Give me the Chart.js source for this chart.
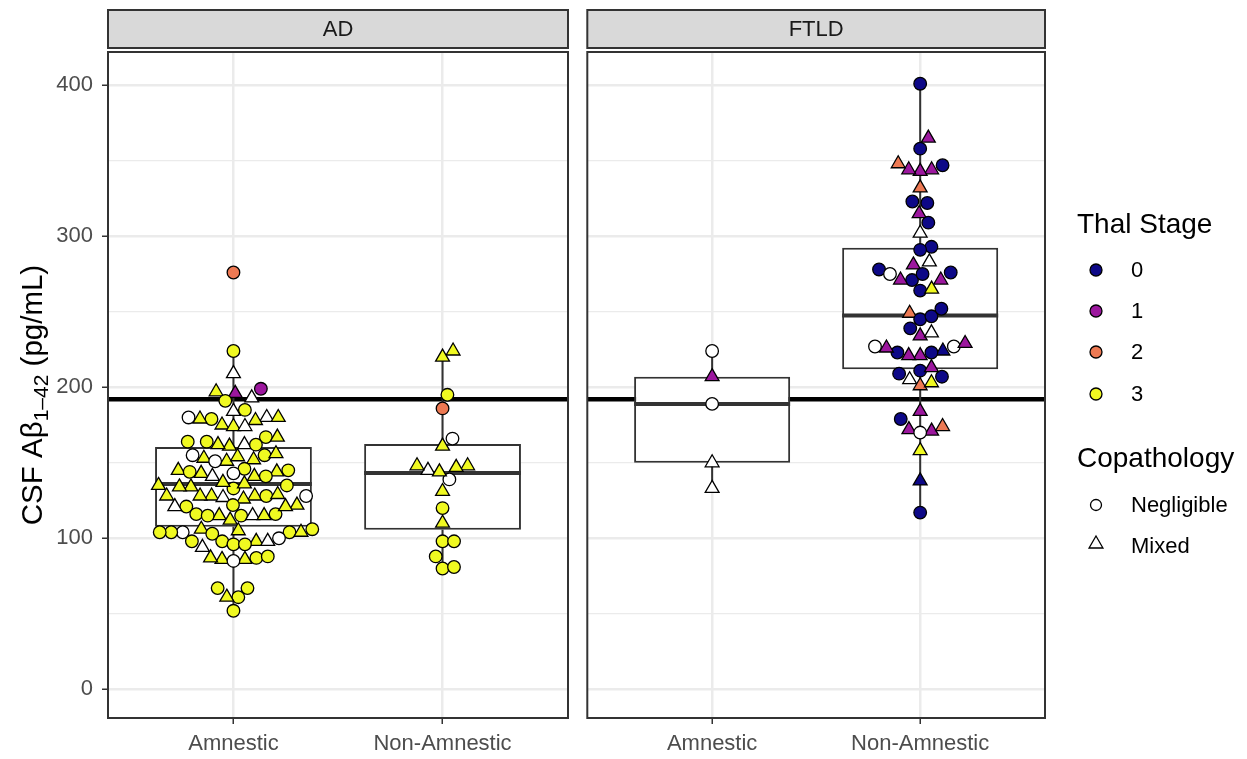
<!DOCTYPE html>
<html>
<head>
<meta charset="utf-8">
<script src="https://cdn.jsdelivr.net/npm/chart.js@4.4.0/dist/chart.umd.min.js"></script>
<style>
  html, body { margin: 0; padding: 0; background: #fff; }
  #wrap { position: relative; width: 1247px; height: 759px; overflow: hidden; }
  canvas { position: absolute; top: 0; }
  #left { left: 0; width: 578px; height: 759px; }
  #right { left: 578px; width: 669px; height: 759px; }
</style>
</head>
<body>
<div id="wrap">
  <canvas id="left" width="578" height="759"></canvas>
  <canvas id="right" width="669" height="759"></canvas>
</div>
<script>
// categories / facets
const categories = ['Amnestic', 'Non-Amnestic'];
const panels = ['AD', 'FTLD'];
const yTicks = [0, 100, 200, 300, 400];
const yMinor = [50, 150, 250, 350];
const yMin = -19;
const yMax = 422;
const threshold = 192;

// thal stage colours (plasma) - null stage drawn white
const stageColors = ['#0d0887', '#9c179e', '#ed7953', '#f0f921'];
const stageLabels = ['0', '1', '2', '3'];
const copathLabels = ['Negligible', 'Mixed'];

// box stats per category [Amnestic, Non-Amnestic]
const adQ1 = [107.6, 105.6];
const adMed = [136, 143.2];
const adQ3 = [160.4, 162.4];
const adLo = [52, 80];
const adHi = [224, 224];

const ftldQ1 = [150, 212];
const ftldMed = [189, 247.5];
const ftldQ3 = [207, 292.4];
const ftldLo = [133, 117];
const ftldHi = [224, 401];

// points: [value, thal stage (null = NA), copathology o=Negligible t=Mixed]
const adAmnestic = [
  [276,2,'o'], [224,3,'o'], [209,null,'t'], [199,1,'o'], [196,1,'t'], [197,3,'t'], [193,null,'t'],
  [191,3,'o'], [185,3,'o'], [184,null,'t'], [179,3,'o'], [179,3,'t'], [180,null,'t'], [178,3,'t'],
  [180,3,'t'], [180,null,'o'], [175,3,'t'], [174,3,'t'], [174,null,'t'], [167,3,'o'], [167,3,'t'],
  [164,3,'o'], [162,null,'t'], [161,3,'t'], [162,3,'t'], [162,3,'o'], [164,3,'o'], [155,3,'o'],
  [155,null,'o'], [153,3,'t'], [152,3,'t'], [151,3,'t'], [151,null,'o'], [154,3,'t'], [156,3,'t'],
  [145,3,'o'], [145,3,'t'], [146,3,'o'], [143,null,'o'], [143,3,'t'], [144,3,'t'], [141,3,'t'],
  [141,null,'t'], [141,3,'o'], [144,3,'o'], [135,3,'o'], [135,3,'t'], [133,3,'o'], [128,3,'t'],
  [128,3,'t'], [128,3,'o'], [137,3,'t'], [136,3,'t'], [134,3,'t'], [134,3,'t'], [127,null,'t'],
  [121,3,'o'], [129,3,'t'], [126,3,'t'], [128,3,'t'], [128,3,'t'], [128,null,'o'], [122,3,'o'],
  [122,3,'t'], [116,3,'o'], [115,3,'o'], [115,3,'t'], [112,3,'t'], [115,null,'t'], [115,3,'o'],
  [115,3,'t'], [116,3,'o'], [121,3,'t'], [121,null,'t'], [106,3,'t'], [104,null,'o'], [104,3,'o'],
  [106,3,'o'], [105,3,'t'], [104,3,'o'], [98,3,'o'], [94,null,'t'], [103,3,'o'], [98,3,'t'],
  [96,3,'o'], [96,3,'o'], [98,null,'t'], [98,3,'o'], [100,null,'o'], [104,3,'t'], [104,3,'o'],
  [87,3,'o'], [86,3,'t'], [86,3,'t'], [85,null,'o'], [87,3,'t'], [88,3,'o'], [67,3,'o'],
  [67,3,'o'], [61,3,'o'], [61,3,'t'], [52,3,'o']
];
const adNonAmnestic = [
  [224,3,'t'], [220,3,'t'], [195,3,'o'], [186,2,'o'], [166,null,'o'], [161,3,'t'], [148,3,'t'],
  [147,3,'t'], [145,null,'t'], [139,null,'o'], [144,3,'t'], [148,3,'t'], [131,3,'t'], [120,3,'o'],
  [110,3,'t'], [98,3,'o'], [98,3,'o'], [88,3,'o'], [80,3,'o'], [81,3,'o']
];
const ftldAmnestic = [
  [224,null,'o'], [207,1,'t'], [189,null,'o'], [150,null,'t'], [133,null,'t']
];
const ftldNonAmnestic = [
  [401,0,'o'], [365,1,'t'], [358,0,'o'], [347,0,'o'], [344,1,'t'], [343,1,'t'], [344,1,'t'],
  [348,2,'t'], [332,2,'t'], [323,0,'o'], [322,0,'o'], [315,1,'t'], [309,0,'o'], [302,null,'t'],
  [293,0,'o'], [291,0,'o'], [281,1,'t'], [283,null,'t'], [278,0,'o'], [276,0,'o'], [271,0,'o'],
  [271,1,'t'], [275,0,'o'], [271,1,'t'], [275,null,'o'], [264,0,'o'], [265,3,'t'], [249,2,'t'],
  [245,0,'o'], [247,0,'o'], [252,0,'o'], [239,0,'o'], [234,1,'t'], [236,null,'t'], [227,null,'o'],
  [227,null,'o'], [224,0,'t'], [223,0,'o'], [221,1,'t'], [221,1,'t'], [223,0,'o'], [226,1,'t'],
  [229,1,'t'], [209,0,'o'], [205,null,'t'], [211,0,'o'], [207,0,'o'], [213,1,'t'], [201,2,'t'],
  [203,3,'t'], [179,0,'o'], [184,1,'t'], [172,1,'t'], [171,1,'t'], [170,null,'o'], [174,2,'t'],
  [158,3,'t'], [138,0,'t'], [117,0,'o']
];

const FONT = '"Liberation Sans", Arial, Helvetica, sans-serif';
const DARK = '#333333';
const GRID = '#ebebeb';
const BOX_HALF = 0.375;

function fillOf(stage) { return stage === null ? '#ffffff' : stageColors[stage]; }

function pointDataset(points, cat) {
  return {
    type: 'scatter',
    order: 0,
    data: points.map(p => ({ x: cat, y: p[0] })),
    pointStyle: points.map(p => p[2] === 'o' ? 'circle' : 'triangle'),
    pointRadius: points.map(p => p[2] === 'o' ? 6.3 : 8),
    pointBackgroundColor: points.map(p => fillOf(p[1])),
    pointBorderColor: '#000000',
    pointBorderWidth: 1.3
  };
}

// swarm layout in pixel space (elliptical spacing), lowest values placed first
function swarmOffsets(pixYs, sx, sy) {
  const idx = pixYs.map((_, i) => i).sort((a, b) => pixYs[b] - pixYs[a]);
  const placed = [];
  const out = new Array(pixYs.length).fill(0);
  const clear = (c, y) => placed.every(p => ((p.x - c) / sx) ** 2 + ((p.y - y) / sy) ** 2 >= 0.999);
  for (const i of idx) {
    const y = pixYs[i];
    const cands = [0];
    for (const p of placed) {
      const dy = Math.abs(p.y - y);
      if (dy < sy) {
        const dx = sx * Math.sqrt(1 - (dy / sy) ** 2);
        cands.push(p.x + dx, p.x - dx);
      }
    }
    cands.sort((a, b) => Math.abs(a) - Math.abs(b));
    let best = 0;
    for (const c of cands) {
      if (clear(c, y)) { best = c; break; }
    }
    placed.push({ x: best, y: y });
    out[i] = best;
  }
  return out;
}

function panelPlugin(title, extra) {
  return {
    id: 'panel' + title,
    afterDraw(chart) {
      const ctx = chart.ctx;
      const a = chart.chartArea;
      ctx.save();
      // panel border
      ctx.strokeStyle = DARK;
      ctx.lineWidth = 2;
      ctx.strokeRect(a.left, a.top, a.right - a.left, a.bottom - a.top);
      // strip
      ctx.fillStyle = '#d9d9d9';
      ctx.fillRect(a.left, 10, a.right - a.left, 38);
      ctx.strokeRect(a.left, 10, a.right - a.left, 38);
      ctx.fillStyle = '#1a1a1a';
      ctx.font = '22px ' + FONT;
      ctx.textAlign = 'center';
      ctx.textBaseline = 'middle';
      ctx.fillText(title, (a.left + a.right) / 2, 30);
      ctx.restore();
      if (extra) extra(chart);
    }
  };
}

function drawYTitle(chart) {
  const ctx = chart.ctx;
  ctx.save();
  ctx.translate(42, 395);
  ctx.rotate(-Math.PI / 2);
  ctx.fillStyle = '#000000';
  ctx.textBaseline = 'alphabetic';
  ctx.textAlign = 'left';
  const parts = [
    { t: 'CSF A\u03b2', f: '29.5px ', dy: 0 },
    { t: '1\u201342', f: '21px ', dy: 6 },
    { t: ' (pg/mL)', f: '29.5px ', dy: 0 }
  ];
  let total = 0;
  parts.forEach(p => { ctx.font = p.f + FONT; p.w = ctx.measureText(p.t).width; total += p.w; });
  let x = -total / 2;
  parts.forEach(p => { ctx.font = p.f + FONT; ctx.fillText(p.t, x, p.dy); x += p.w; });
  ctx.restore();
}

function drawLegend(chart) {
  const ctx = chart.ctx;
  const ox = -578;
  ctx.save();
  ctx.fillStyle = '#000000';
  ctx.textAlign = 'left';
  ctx.textBaseline = 'alphabetic';
  ctx.font = '28px ' + FONT;
  ctx.fillText('Thal Stage', 1077 + ox, 233);
  ctx.fillText('Copathology', 1077 + ox, 467);
  ctx.font = '22px ' + FONT;
  ctx.textBaseline = 'middle';
  const rows = [270, 311, 352, 394];
  stageLabels.forEach((lab, i) => {
    ctx.beginPath();
    ctx.arc(1096 + ox, rows[i], 6, 0, Math.PI * 2);
    ctx.fillStyle = stageColors[i];
    ctx.fill();
    ctx.lineWidth = 1.3;
    ctx.strokeStyle = '#000';
    ctx.stroke();
    ctx.fillStyle = '#000';
    ctx.fillText(lab, 1131 + ox, rows[i] + 1);
  });
  // copathology
  ctx.beginPath();
  ctx.arc(1096 + ox, 505, 5.5, 0, Math.PI * 2);
  ctx.fillStyle = '#fff';
  ctx.fill();
  ctx.strokeStyle = '#000';
  ctx.lineWidth = 1.3;
  ctx.stroke();
  ctx.beginPath();
  const r = 8, cx = 1096 + ox, cy = 544;
  ctx.moveTo(cx, cy - r);
  ctx.lineTo(cx + r * 0.866, cy + r / 2);
  ctx.lineTo(cx - r * 0.866, cy + r / 2);
  ctx.closePath();
  ctx.fill();
  ctx.stroke();
  ctx.fillStyle = '#000';
  ctx.fillText(copathLabels[0], 1131 + ox, 506);
  ctx.fillText(copathLabels[1], 1131 + ox, 547);
  ctx.restore();
}

function makePanel(canvasId, title, groups, q1, med, q3, lo, hi, isLeft) {
  const whisk = [];
  const medLine = [];
  categories.forEach((c, i) => {
    const x = i + 1;
    whisk.push({ x: x, y: hi[i] }, { x: x, y: q3[i] }, { x: x, y: null },
               { x: x, y: q1[i] }, { x: x, y: lo[i] }, { x: x, y: null });
    medLine.push({ x: x - BOX_HALF, y: med[i] }, { x: x + BOX_HALF, y: med[i] }, { x: x + 0.5, y: null });
  });

  const datasets = [
    { type: 'line', order: 5, data: [{ x: 0.4, y: threshold }, { x: 2.6, y: threshold }],
      borderColor: '#000000', borderWidth: 4.5, pointRadius: 0 },
    { type: 'bar', order: 4, data: categories.map((c, i) => ({ x: i + 1, y: [q1[i], q3[i]] })),
      backgroundColor: '#ffffff', borderColor: DARK, borderWidth: 2, borderSkipped: false,
      categoryPercentage: 1, barPercentage: 0.75 },
    { type: 'line', order: 3, data: whisk, borderColor: DARK, borderWidth: 2, pointRadius: 0, spanGaps: false },
    { type: 'line', order: 3, data: medLine, borderColor: DARK, borderWidth: 4, pointRadius: 0, spanGaps: false },
    pointDataset(groups[0], 1),
    pointDataset(groups[1], 2)
  ];

  const chart = new Chart(document.getElementById(canvasId), {
    type: 'scatter',
    data: { datasets: datasets },
    options: {
      responsive: false,
      animation: false,
      devicePixelRatio: 1,
      events: [],
      layout: { padding: isLeft ? { top: 52, right: 10, left: 0, bottom: 0 } : { top: 52, right: 202, left: 8, bottom: 0 } },
      plugins: { legend: { display: false }, tooltip: { enabled: false } },
      scales: {
        x: {
          type: 'linear', min: 0.4, max: 2.6, offset: false,
          afterBuildTicks: s => { s.ticks = [{ value: 1 }, { value: 2 }]; },
          afterFit: s => { s.height = 41; },
          ticks: { callback: (v, i) => categories[i], color: '#4d4d4d', font: { family: FONT, size: 22 }, padding: 7, maxRotation: 0, autoSkip: false },
          grid: { offset: false, color: GRID, lineWidth: 2.5, tickColor: DARK, tickWidth: 1.5, tickLength: 6 },
          border: { display: false }
        },
        y: {
          type: 'linear', min: yMin, max: yMax,
          afterBuildTicks: s => { s.ticks = yTicks.concat(yMinor).sort((a, b) => a - b).map(v => ({ value: v })); },
          afterFit: s => { s.width = isLeft ? 108 : 0; },
          ticks: {
            display: isLeft,
            callback: v => (yTicks.includes(v) ? String(v) : ''),
            color: '#4d4d4d', font: { family: FONT, size: 22 }, padding: 9
          },
          grid: {
            color: GRID,
            lineWidth: c => (yTicks.includes(c.tick.value) ? 2.5 : 1.2),
            drawTicks: isLeft,
            tickLength: 6,
            tickWidth: 1.5,
            tickColor: c => (yTicks.includes(c.tick.value) ? DARK : 'rgba(0,0,0,0)')
          },
          border: { display: false }
        }
      }
    },
    plugins: [panelPlugin(title, isLeft ? drawYTitle : drawLegend)]
  });

  // swarm layout of points through the chart scales
  const xs = chart.scales.x;
  const ys = chart.scales.y;
  const pxPerUnit = xs.getPixelForValue(2) - xs.getPixelForValue(1);
  groups.forEach((g, gi) => {
    const pix = g.map(p => ys.getPixelForValue(p[0]));
    const off = swarmOffsets(pix, 11.5, 15);
    chart.data.datasets[4 + gi].data = g.map((p, i) => ({ x: gi + 1 + off[i] / pxPerUnit, y: p[0] }));
  });
  chart.update('none');
  return chart;
}

makePanel('left', panels[0], [adAmnestic, adNonAmnestic], adQ1, adMed, adQ3, adLo, adHi, true);
makePanel('right', panels[1], [ftldAmnestic, ftldNonAmnestic], ftldQ1, ftldMed, ftldQ3, ftldLo, ftldHi, false);
</script>
</body>
</html>
